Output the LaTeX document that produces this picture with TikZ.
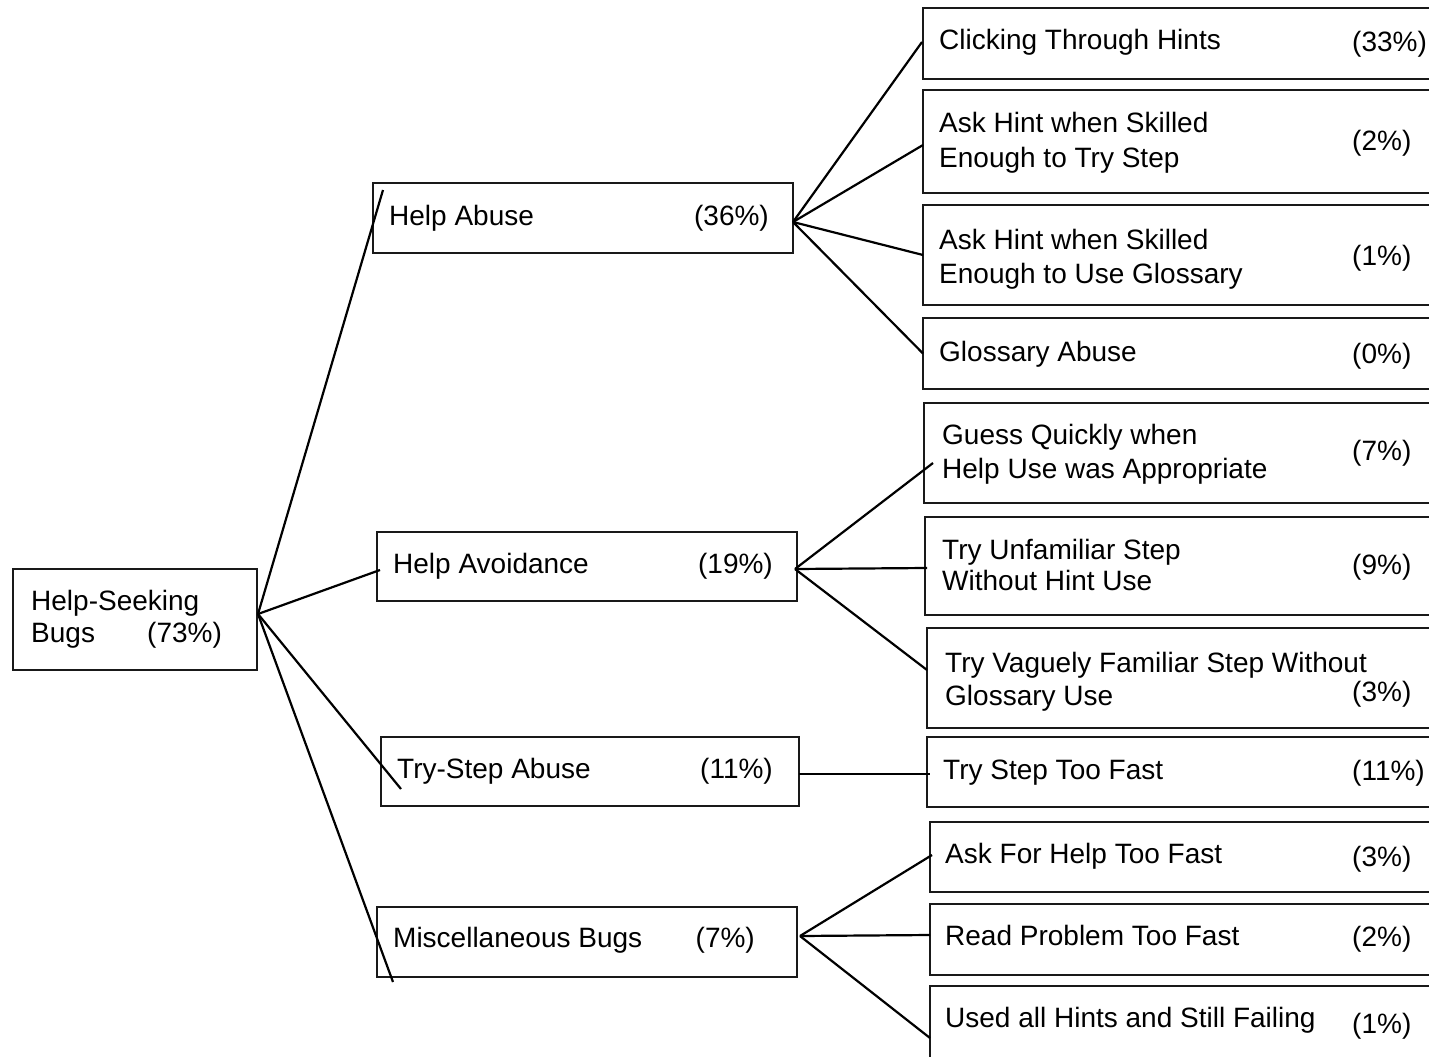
\documentclass[tikz,border=0pt]{standalone}
\usepackage{fontspec}
\setmainfont{Liberation Sans}
\usetikzlibrary{calc}
\tikzset{
  box/.style={draw=black!90, line width=2.8pt, rectangle, inner sep=0pt, outer sep=0pt, anchor=north west},
  lbl/.style={inner sep=0pt, anchor=base west, font=\fontsize{28}{33}\selectfont, text=black},
  pct/.style={inner sep=0pt, anchor=base west, font=\fontsize{28}{33}\selectfont, text=black},
  pcte/.style={inner sep=0pt, anchor=base east, font=\fontsize{28}{33}\selectfont, text=black},
  conn/.style={draw=black, line width=2.2pt}
}
\begin{document}
\begin{tikzpicture}[x=1pt,y=-1pt]
\useasboundingbox (0,0) rectangle (1429,1057);
\clip (0,0) rectangle (1429,1057);
\fill[white] (0,0) rectangle (1429,1057);
% boxes
\node[box, minimum width=244pt, minimum height=101pt] (root) at (13,569) {};
\node[box, minimum width=420pt, minimum height=70pt] (ha) at (373,183) {};
\node[box, minimum width=420pt, minimum height=69pt] (hv) at (377,532) {};
\node[box, minimum width=418pt, minimum height=69pt] (ts) at (381,737) {};
\node[box, minimum width=420pt, minimum height=70pt] (mb) at (377,907) {};
\node[box, minimum width=530pt, minimum height=71pt] (r1) at (923,8) {};
\node[box, minimum width=530pt, minimum height=103pt] (r2) at (923,90) {};
\node[box, minimum width=530pt, minimum height=100pt] (r3) at (923,205) {};
\node[box, minimum width=530pt, minimum height=71pt] (r4) at (923,318) {};
\node[box, minimum width=530pt, minimum height=100pt] (r5) at (924,403) {};
\node[box, minimum width=530pt, minimum height=98pt] (r6) at (925,517) {};
\node[box, minimum width=530pt, minimum height=100pt] (r7) at (927,628) {};
\node[box, minimum width=530pt, minimum height=70pt] (r8) at (927,737) {};
\node[box, minimum width=530pt, minimum height=70pt] (r9) at (930,822) {};
\node[box, minimum width=530pt, minimum height=71pt] (r10) at (930,904) {};
\node[box, minimum width=530pt, minimum height=80pt] (r11) at (930,986) {};
% labels
\node[lbl] (t0a) at (31,610) {Help-Seeking};
\node[lbl] (t0b) at (31,642) {Bugs};
\node[pct] (p0) at (147,642) {(73\%)};
\node[lbl] (t1) at (389,225) {Help Abuse};
\node[pcte] (p1) at (769,225) {(36\%)};
\node[lbl] (t2) at (393,573) {Help Avoidance};
\node[pcte] (p2) at (773,573) {(19\%)};
\node[lbl] (t3) at (397,778) {Try-Step Abuse};
\node[pcte] (p3) at (773,778) {(11\%)};
\node[lbl] (t4) at (393,947) {Miscellaneous Bugs};
\node[pcte] (p4) at (755,947) {(7\%)};
\node[lbl] (s1) at (939,50) {Clicking Through Hints};
\node[pct] (q1) at (1352,52) {(33\%)};
\node[lbl] (s2a) at (939,132) {Ask Hint when Skilled};
\node[lbl] (s2b) at (939,167) {Enough to Try Step};
\node[pct] (q2) at (1352,150) {(2\%)};
\node[lbl] (s3a) at (939,249) {Ask Hint when Skilled};
\node[lbl] (s3b) at (939,283) {Enough to Use Glossary};
\node[pct] (q3) at (1352,265) {(1\%)};
\node[lbl] (s4) at (939,361) {Glossary Abuse};
\node[pct] (q4) at (1352,363) {(0\%)};
\node[lbl] (s5a) at (942,444) {Guess Quickly when};
\node[lbl] (s5b) at (942,478) {Help Use was Appropriate};
\node[pct] (q5) at (1352,460) {(7\%)};
\node[lbl] (s6a) at (942,559) {Try Unfamiliar Step};
\node[lbl] (s6b) at (942,590) {Without Hint Use};
\node[pct] (q6) at (1352,574) {(9\%)};
\node[lbl] (s7a) at (945,672) {Try Vaguely Familiar Step Without};
\node[lbl] (s7b) at (945,705) {Glossary Use};
\node[pct] (q7) at (1352,701) {(3\%)};
\node[lbl] (s8) at (943,779) {Try Step Too Fast};
\node[pct] (q8) at (1352,780) {(11\%)};
\node[lbl] (s9) at (945,863) {Ask For Help Too Fast};
\node[pct] (q9) at (1352,866) {(3\%)};
\node[lbl] (s10) at (945,945) {Read Problem Too Fast};
\node[pct] (q10) at (1352,946) {(2\%)};
\node[lbl] (s11) at (945,1027) {Used all Hints and Still Failing};
\node[pct] (q11) at (1352,1033) {(1\%)};
% connectors
\coordinate (rootP) at ($(root.east)+(1,-5.5)$);
\draw[conn] (rootP) -- ($(ha.north west)+(10,7)$);
\draw[conn] (rootP) -- ($(hv.west)+(3,3.5)$);
\draw[conn] (rootP) -- ($(ts.west)+(20,17.5)$);
\draw[conn] (rootP) -- ($(mb.south west)+(16,5)$);
\coordinate (haP) at ($(ha.east)+(0,4)$);
\draw[conn] (haP) -- ($(r1.west)+(-1,-1.5)$);
\draw[conn] (haP) -- ($(r2.west)+(0,3.5)$);
\draw[conn] (haP) -- (r3.west);
\draw[conn] (haP) -- (r4.west);
\coordinate (hvP) at ($(hv.east)+(-2,2.5)$);
\draw[conn] (hvP) -- ($(r5.west)+(9,10)$);
\draw[conn] (hvP) -- ($(r6.west)+(2,2)$);
\draw[conn] (hvP) -- ($(r7.west)+(0,-8)$);
\draw[conn] ($(ts.east)+(0,2.5)$) -- ($(r8.west)+(3,2)$);
\coordinate (mbP) at ($(mb.east)+(3,-6)$);
\draw[conn] (mbP) -- ($(r9.west)+(2,-2)$);
\draw[conn] (mbP) -- ($(r10.west)+(0,-4.5)$);
\draw[conn] (mbP) -- ($(r11.west)+(0,12)$);
\end{tikzpicture}
\end{document}
